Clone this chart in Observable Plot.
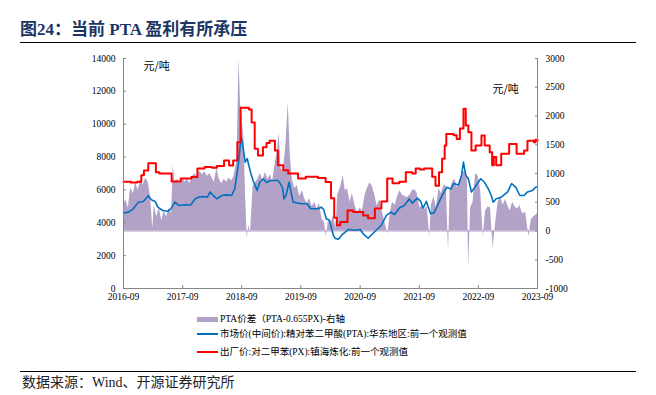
<!DOCTYPE html>
<html><head><meta charset="utf-8">
<script src="https://cdn.jsdelivr.net/npm/d3@7"></script>
<script src="https://cdn.jsdelivr.net/npm/@observablehq/plot@0.6"></script>
<style>
body{margin:0;background:#fff;}
#wrap{position:relative;width:656px;height:395px;overflow:hidden;font-family:"Liberation Serif","Noto Sans CJK SC",serif;color:#000;}
#title{position:absolute;left:20px;top:20px;font-size:17px;font-weight:bold;color:#1B3664;white-space:nowrap;line-height:20px;}
.hr{position:absolute;left:20px;width:616px;height:0;border-top:1.3px solid #000;}
#chart{position:absolute;left:0;top:50px;}
.lg{position:absolute;left:197px;font-size:9.5px;line-height:12px;white-space:nowrap;display:flex;align-items:center;}
.sw{display:inline-block;width:21px;margin-right:2px;}
#source{position:absolute;left:22px;top:375px;font-size:14px;line-height:16px;white-space:nowrap;color:#222;}
</style></head>
<body><div id="wrap">
<div id="title"></div>
<div class="hr" style="top:42px"></div>
<div id="chart"></div>
<div id="legend"></div>
<div class="hr" style="top:371px"></div>
<div id="source"></div>
</div>
<script>
const titleText = "图24：当前 PTA 盈利有所承压";
const sourceText = "数据来源：Wind、开源证券研究所";
const unitText = "元/吨";
const seriesNames = ["PTA价差（PTA-0.655PX)-右轴", "市场价(中间价):精对苯二甲酸(PTA):华东地区:前一个观测值", "出厂价:对二甲苯(PX):镇海炼化:前一个观测值"];
const seriesColors = ["#B3A2C7", "#0070C0", "#FF0000"];

const xTicks = ["2016-09-01","2017-09-01","2018-09-01","2019-09-01","2020-09-01","2021-09-01","2022-09-01","2023-09-01"];
const leftTicks = [0,2000,4000,6000,8000,10000,12000,14000];
const rightTicks = [-1000,-500,0,500,1000,1500,2000,2500,3000];

// PX (red, left axis)
const pxSeries = [
["2016-09-01",6500],["2016-10-15",6450],["2016-11-25",6500],["2016-12-20",6900],["2017-01-05",7180],["2017-02-01",7630],
["2017-03-20",7080],["2017-04-10",7000],["2017-06-25",6510],["2017-08-20",6700],["2017-10-25",6780],["2017-12-01",7300],
["2018-01-15",7400],["2018-03-01",7350],["2018-04-01",7450],["2018-05-15",7790],["2018-06-15",7490],["2018-07-10",7790],
["2018-08-05",8900],["2018-08-25",11000],["2018-10-15",10900],["2018-11-01",10100],["2018-11-20",8500],["2018-12-10",8100],
["2019-01-10",8600],["2019-02-01",8850],["2019-02-20",9000],["2019-03-25",8400],["2019-04-12",7500],["2019-05-15",7200],
["2019-06-15",7000],["2019-08-15",6700],["2019-10-01",6800],["2019-12-15",6720],["2020-02-01",6480],["2020-03-05",5500],
["2020-03-25",4300],["2020-04-10",3850],["2020-05-01",4050],["2020-06-15",4750],["2020-07-20",4650],["2020-09-20",4450],
["2020-10-20",4280],["2020-12-01",4870],["2021-01-10",5300],["2021-02-15",6700],["2021-03-20",6400],["2021-05-01",6500],
["2021-06-10",7080],["2021-07-20",7000],["2021-08-10",7300],["2021-09-05",7250],["2021-10-01",7300],["2021-11-20",6800],
["2021-12-10",6250],["2022-01-01",7080],["2022-01-20",7900],["2022-02-05",8700],["2022-02-15",9410],["2022-04-01",9330],
["2022-04-20",9100],["2022-05-10",9740],["2022-06-01",10940],["2022-06-15",9920],["2022-07-01",9510],["2022-07-20",8400],
["2022-08-15",8700],["2022-09-20",9310],["2022-10-10",8700],["2022-11-10",8300],["2022-11-25",7500],["2022-12-05",8010],
["2022-12-20",7500],["2023-01-20",8200],["2023-03-10",8800],["2023-04-25",8200],["2023-06-10",8400],["2023-07-01",9000],
["2023-08-10",8900],["2023-08-20",9050],["2023-09-01",9000]
];

// PTA (blue, left axis)
const ptaSeries = [
["2016-09-01",4600],["2016-10-01",4650],["2016-11-01",4850],["2016-12-01",5250],["2017-01-01",5300],["2017-02-01",5650],
["2017-02-20",5400],["2017-03-15",5300],["2017-04-01",4950],["2017-05-01",4750],["2017-06-01",4700],["2017-06-20",4850],
["2017-07-15",5260],["2017-08-10",5050],["2017-09-15",5100],["2017-10-20",5080],["2017-11-18",5460],["2017-12-10",5560],
["2018-01-10",5600],["2018-02-01",5560],["2018-02-18",5880],["2018-03-10",5650],["2018-04-01",5460],["2018-05-01",5660],
["2018-06-01",5700],["2018-07-01",5660],["2018-07-20",6070],["2018-08-10",7490],["2018-08-28",9210],["2018-09-05",8900],
["2018-09-22",7690],["2018-10-05",7900],["2018-10-25",7080],["2018-11-10",6570],["2018-12-05",5970],["2018-12-20",6450],
["2019-01-12",6680],["2019-02-01",6450],["2019-02-25",6570],["2019-04-15",6570],["2019-05-10",6160],["2019-05-20",5460],
["2019-06-01",5660],["2019-06-20",6470],["2019-07-15",5260],["2019-09-01",5160],["2019-10-10",5160],["2019-11-01",4850],
["2019-12-15",4850],["2020-01-05",4950],["2020-01-20",4800],["2020-02-05",4240],["2020-02-25",4150],["2020-03-20",3220],
["2020-04-01",3040],["2020-04-20",3000],["2020-05-15",3300],["2020-06-20",3590],["2020-08-01",3550],["2020-09-01",3590],
["2020-09-20",3330],["2020-10-20",3060],["2020-12-01",3470],["2021-01-10",3850],["2021-02-10",4450],["2021-03-10",4650],
["2021-04-01",4500],["2021-05-01",4900],["2021-06-01",5050],["2021-07-01",5450],["2021-07-20",5200],["2021-08-20",5500],
["2021-09-10",5300],["2021-09-25",4900],["2021-10-15",5300],["2021-11-10",4550],["2021-12-01",4600],["2022-01-10",5460],
["2022-02-01",5880],["2022-02-20",6160],["2022-03-15",6050],["2022-04-01",6390],["2022-05-01",6300],["2022-05-20",6900],
["2022-06-01",7690],["2022-06-15",6900],["2022-07-01",6680],["2022-07-20",5880],["2022-08-10",6160],["2022-09-01",6470],
["2022-09-15",6680],["2022-10-10",6450],["2022-11-01",6070],["2022-11-20",5660],["2022-12-01",5260],["2022-12-20",5460],
["2023-01-20",5560],["2023-03-01",5880],["2023-03-25",6390],["2023-04-20",6160],["2023-05-15",5660],["2023-06-10",5660],
["2023-07-01",5880],["2023-08-01",5970],["2023-08-20",6160],["2023-09-01",6200]
];

// PTA spread (purple area, right axis)
const spreadSeries = [
["2016-09-01",450],["2016-09-15",550],["2016-10-01",400],["2016-10-15",750],["2016-11-01",650],["2016-11-15",850],
["2016-12-01",700],["2016-12-15",900],["2017-01-01",800],["2017-01-15",920],["2017-02-01",850],["2017-02-15",600],
["2017-03-01",40],["2017-03-10",450],["2017-03-25",250],["2017-04-10",400],["2017-04-25",180],["2017-05-10",350],
["2017-05-25",250],["2017-06-10",400],["2017-06-25",300],["2017-07-05",1140],["2017-07-15",850],["2017-08-01",900],
["2017-08-15",820],["2017-09-01",920],["2017-09-15",850],["2017-10-01",900],["2017-10-15",820],["2017-11-01",950],
["2017-11-15",1000],["2017-12-01",930],["2017-12-15",1050],["2018-01-01",980],["2018-01-15",1030],["2018-02-01",950],
["2018-02-15",1000],["2018-03-01",930],["2018-03-15",850],["2018-04-01",1090],["2018-04-15",900],["2018-05-01",820],
["2018-05-15",900],["2018-06-01",850],["2018-06-15",920],["2018-07-01",870],["2018-07-15",950],["2018-08-03",1220],
["2018-08-15",3000],["2018-08-25",2200],["2018-09-05",1900],["2018-09-15",1600],["2018-09-25",600],["2018-10-05",-130],
["2018-10-15",100],["2018-10-25",-50],["2018-11-10",780],["2018-11-25",840],["2018-12-10",900],["2018-12-25",1000],
["2019-01-10",880],["2019-01-25",1020],["2019-02-10",900],["2019-02-25",980],["2019-03-10",850],["2019-03-25",1150],
["2019-04-10",1400],["2019-04-20",1710],["2019-05-01",1100],["2019-05-15",1020],["2019-06-01",1500],["2019-06-15",2240],
["2019-06-28",1300],["2019-07-10",900],["2019-07-25",740],["2019-08-10",790],["2019-08-25",600],["2019-09-10",700],
["2019-09-25",560],["2019-10-10",480],["2019-10-25",560],["2019-11-10",420],["2019-11-25",500],["2019-12-10",390],
["2019-12-25",480],["2020-01-10",200],["2020-01-25",150],["2020-02-05",-100],["2020-02-20",200],["2020-03-05",120],
["2020-03-20",270],["2020-04-05",40],["2020-04-15",620],["2020-05-01",740],["2020-05-20",965],["2020-06-01",700],
["2020-06-15",740],["2020-07-01",500],["2020-07-15",650],["2020-08-01",440],["2020-08-15",320],["2020-09-01",400],
["2020-09-15",350],["2020-10-01",620],["2020-10-15",740],["2020-11-01",840],["2020-11-15",780],["2020-12-01",620],
["2020-12-15",440],["2021-01-01",550],["2021-01-15",350],["2021-02-01",150],["2021-02-20",-50],["2021-03-05",300],
["2021-03-20",500],["2021-04-05",450],["2021-04-20",600],["2021-05-05",700],["2021-05-20",620],["2021-06-05",600],
["2021-06-20",580],["2021-07-05",620],["2021-07-20",700],["2021-08-05",720],["2021-08-20",650],["2021-09-05",400],
["2021-09-20",450],["2021-10-05",380],["2021-10-20",420],["2021-11-05",-100],["2021-11-15",450],["2021-12-01",600],
["2021-12-15",400],["2022-01-01",740],["2022-01-15",650],["2022-02-01",800],["2022-02-15",780],["2022-03-01",-375],
["2022-03-10",700],["2022-03-25",850],["2022-04-10",900],["2022-04-25",750],["2022-05-10",880],["2022-05-25",1000],
["2022-06-10",1050],["2022-06-25",950],["2022-07-03",-650],["2022-07-15",400],["2022-07-30",500],["2022-08-15",1000],
["2022-09-01",950],["2022-09-15",700],["2022-10-01",-100],["2022-10-15",350],["2022-11-01",420],["2022-11-15",400],
["2022-12-01",-300],["2022-12-15",100],["2023-01-01",500],["2023-01-15",600],["2023-02-01",450],["2023-02-15",550],
["2023-03-01",450],["2023-03-15",350],["2023-04-01",500],["2023-04-15",420],["2023-05-01",380],["2023-05-15",450],
["2023-06-01",300],["2023-06-20",320],["2023-07-10",-100],["2023-07-25",200],["2023-08-10",250],["2023-09-01",300]
];

// right axis [-1000,3000] mapped onto left axis [0,14000]
const RZERO = 3500, RK = 3.5;
const toLeft = r => RZERO + r * RK;
const rows = s => s.map(([d, v]) => ({date: new Date(d), v}));
const px = rows(pxSeries), pta = rows(ptaSeries), spread = rows(spreadSeries);
const xt = xTicks.map(d => new Date(d));
const axisGray = "#868686";

const chart = Plot.plot({
  width: 656, height: 260,
  marginLeft: 123, marginRight: 119, marginTop: 8, marginBottom: 22,
  style: {fontFamily: '"Liberation Serif", serif', fontSize: "9.5px", color: "#000", background: "transparent"},
  x: {type: "utc", domain: [xt[0], xt[xt.length - 1]]},
  y: {domain: [0, 14000]},
  marks: [
    Plot.areaY(spread, {x: "date", y1: () => RZERO, y2: d => toLeft(d.v), fill: seriesColors[0], curve: "linear"}),
    Plot.ruleY([RZERO], {stroke: seriesColors[0], strokeWidth: 1}),
    Plot.line(pta, {x: "date", y: "v", stroke: seriesColors[1], strokeWidth: 1.6}),
    Plot.line(px, {x: "date", y: "v", stroke: seriesColors[2], strokeWidth: 2, curve: "step-after"}),
    Plot.ruleX([xt[0], xt[xt.length - 1]], {stroke: axisGray}),
    Plot.ruleY([0], {stroke: axisGray}),
    Plot.axisY(leftTicks, {anchor: "left", tickSize: -3, tickFormat: () => "", stroke: axisGray, label: null}),
    Plot.axisY(leftTicks, {anchor: "left", tickSize: 0, tickPadding: 8, tickFormat: d => String(d), label: null}),
    Plot.axisY(rightTicks.map(toLeft), {anchor: "right", tickSize: -3, tickFormat: () => "", stroke: axisGray, label: null}),
    Plot.axisY(rightTicks.map(toLeft), {anchor: "right", tickSize: 0, tickPadding: 8, tickFormat: d => String(Math.round((d - RZERO) / RK)), label: null}),
    Plot.axisX(xt, {anchor: "bottom", tickSize: -3, tickFormat: () => "", stroke: axisGray, label: null}),
    Plot.axisX(xt, {anchor: "bottom", tickSize: 0, tickPadding: 5, tickFormat: d3.utcFormat("%Y-%m"), label: null}),
    Plot.text([unitText], {frameAnchor: "top-left", textAnchor: "start", lineAnchor: "middle", dx: 20, dy: 8, fontSize: 11, fontFamily: '"Noto Sans CJK SC", sans-serif'}),
    Plot.text([unitText], {frameAnchor: "top-right", textAnchor: "start", lineAnchor: "middle", dx: -45, dy: 31, fontSize: 11, fontFamily: '"Noto Sans CJK SC", sans-serif'})
  ]
});
document.getElementById("chart").appendChild(chart);
document.getElementById("title").textContent = titleText;
document.getElementById("source").textContent = sourceText;

const legendTops = [313, 328, 346];
const lg = document.getElementById("legend");
seriesNames.forEach((name, i) => {
  const row = document.createElement("div");
  row.className = "lg";
  row.style.top = legendTops[i] + "px";
  const sw = document.createElement("span");
  sw.className = "sw";
  sw.style.height = (i === 0 ? 5 : 2) + "px";
  sw.style.background = seriesColors[i];
  row.appendChild(sw);
  const t = document.createElement("span");
  t.textContent = name;
  row.appendChild(t);
  lg.appendChild(row);
});
</script>
</body></html>
